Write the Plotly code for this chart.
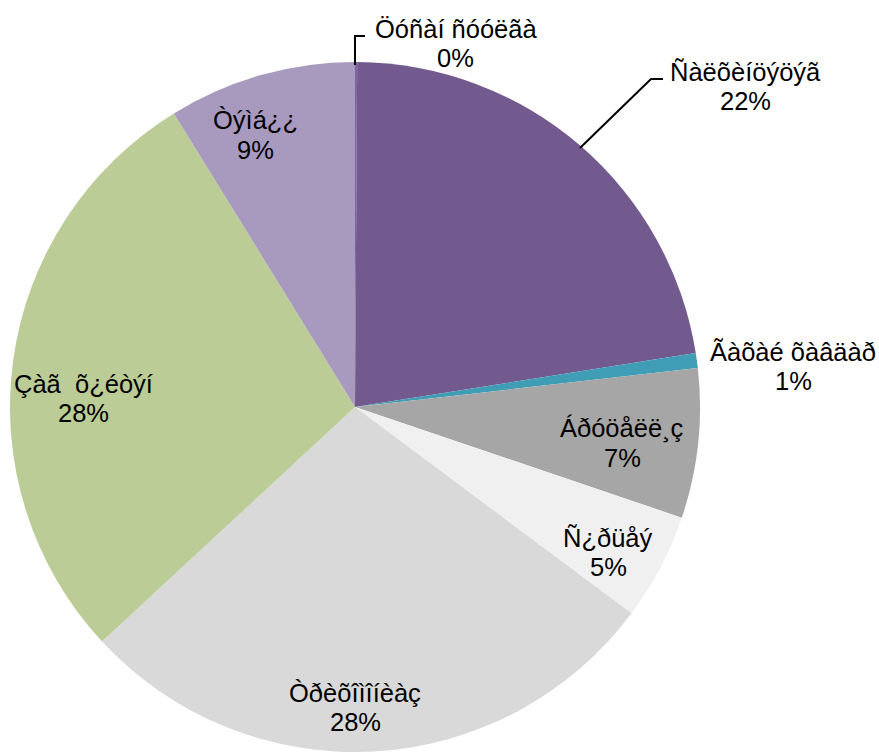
import plotly.graph_objects as go

# ---- data ----
categories = ["Öóñàí ñóóëãà", "Ñàëõèíöýöýã", "Ãàõàé õàâäàð", "Áðóöåëë¸ç",
              "Ñ¿ðüåý", "Òðèõîìîíèàç", "Çàã  õ¿éòýí", "Òýìá¿¿"]
values = [0.1, 22.4, 0.7, 7.0, 5.0, 27.9, 28.1, 8.8]
colors = ["#8064A2", "#725A8F", "#3F9DB6", "#A6A6A6",
          "#F0F0F0", "#D9D9D9", "#BBCC96", "#A899BF"]

# ---- layout helpers (pixel positions of labels in the 879x752 canvas) ----
W, H = 879, 752
label_px = [(456, 43), (745, 87), (793, 366), (622, 443),
            (608, 552), (355, 707), (83, 398), (255, 135)]
line_gap = 29
leaders_px = [
    [(355, 65), (355, 36), (365, 36)],
    [(580, 148), (651, 79), (663, 79)],
]


def px(x, y):
    return x / W, 1 - y / H


total = sum(values)
pcts = [round(v / total * 100) for v in values]

fig = go.Figure(go.Pie(
    labels=categories,
    values=values,
    sort=False,
    direction="clockwise",
    rotation=0,
    marker=dict(colors=colors, line=dict(width=0)),
    textinfo="none",
    hoverinfo="label+percent",
    domain=dict(x=[(355 - 345) / W, (355 + 345) / W], y=[0, 690 / H]),
    showlegend=False,
))

font = dict(family="Liberation Sans, Arial, sans-serif", size=25.5, color="#000000")
annotations = []
for name, p, (x, y) in zip(categories, pcts, label_px):
    for txt, yy in ((name.replace("  ", "\u00a0 "), y - line_gap / 2), (f"{p}%", y + line_gap / 2)):
        ax, ay = px(x, yy)
        annotations.append(dict(
            x=ax, y=ay, xref="paper", yref="paper",
            text=txt, showarrow=False,
            xanchor="center", yanchor="middle",
            font=font,
        ))

shapes = []
for pts in leaders_px:
    path = ""
    for i, (x, y) in enumerate(pts):
        xp, yp = px(x, y)
        path += ("M" if i == 0 else "L") + f"{xp},{yp} "
    shapes.append(dict(type="path", path=path.strip(), xref="paper", yref="paper",
                       line=dict(color="#000000", width=2)))

fig.update_layout(
    width=W, height=H,
    margin=dict(l=0, r=0, t=0, b=0),
    paper_bgcolor="#FFFFFF",
    plot_bgcolor="#FFFFFF",
    annotations=annotations,
    shapes=shapes,
)

fig.write_html("out.html")
